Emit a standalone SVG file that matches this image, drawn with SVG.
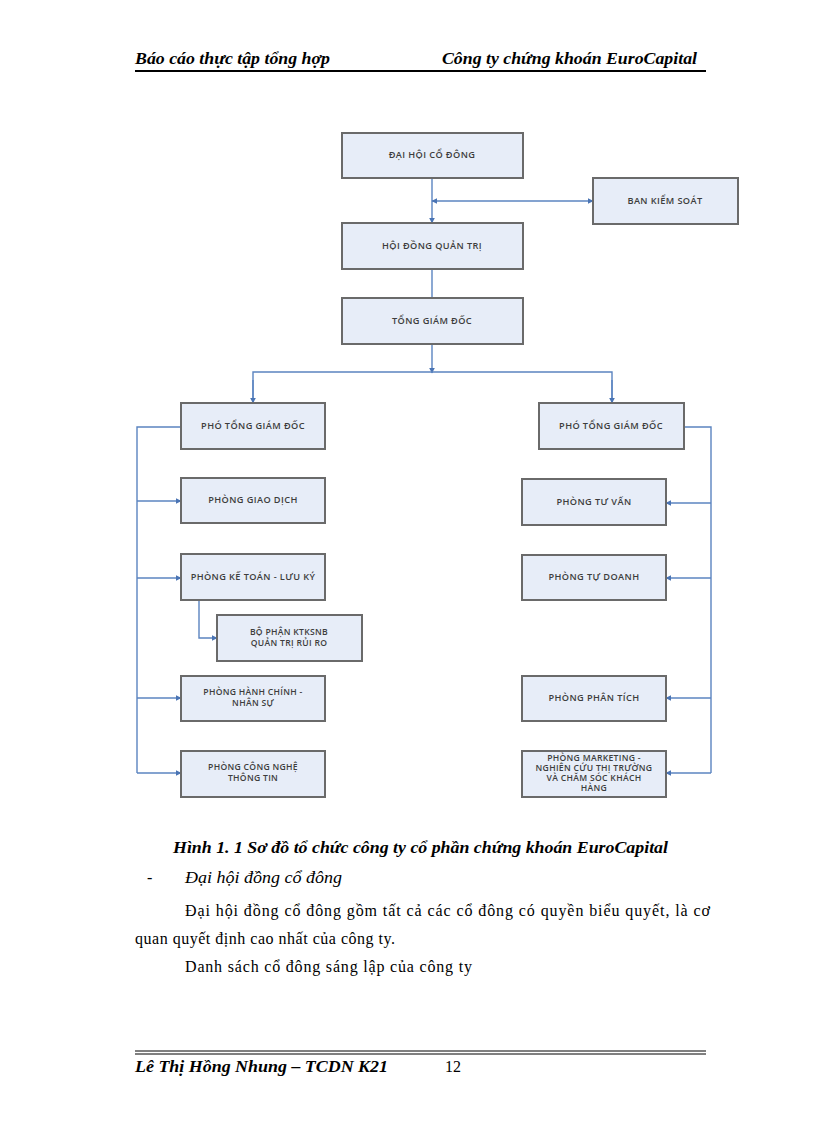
<svg xmlns="http://www.w3.org/2000/svg" width="816" height="1123" viewBox="0 0 816 1123">
<style>
.box{fill:#e7edf8;stroke:#6a6a6a;stroke-width:2}
.bt{font-family:"Open Sans","Liberation Sans",sans-serif;font-size:9.2px;font-weight:600;letter-spacing:0.4px;fill:#3d3d3d;text-anchor:middle}
.bt2{font-family:"Open Sans","Liberation Sans",sans-serif;font-size:8.6px;font-weight:600;letter-spacing:0.3px;fill:#3d3d3d;text-anchor:middle}
.con{fill:none;stroke:#5b84c0;stroke-width:1.4}
.hd{font-family:"Liberation Serif",serif;font-weight:bold;font-style:italic;font-size:16px;fill:#000}
.tx{font-family:"Liberation Serif",serif;font-size:16px;fill:#000}
</style>
<defs>
<marker id="ar" viewBox="0 0 10 10" refX="9" refY="5" markerWidth="6" markerHeight="6" orient="auto-start-reverse" markerUnits="userSpaceOnUse">
<path d="M0,0 L10,5 L0,10 z" fill="#4a74b4"/>
</marker>
</defs>
<rect width="816" height="1123" fill="#fff"/>
<g id="header">
<text class="hd" x="135" y="64" textLength="195" lengthAdjust="spacingAndGlyphs">Báo cáo thực tập tổng hợp</text>
<text class="hd" x="442" y="64" textLength="255" lengthAdjust="spacingAndGlyphs">Công ty chứng khoán EuroCapital</text>
<line x1="135" y1="71" x2="706" y2="71" stroke="#000" stroke-width="2"/>
</g>
<g id="connectors">
<line class="con" x1="432" y1="178" x2="432" y2="223" marker-end="url(#ar)"/>
<line class="con" x1="432" y1="201" x2="593" y2="201" marker-start="url(#ar)" marker-end="url(#ar)"/>
<line class="con" x1="432" y1="269" x2="432" y2="298"/>
<line class="con" x1="432" y1="344" x2="432" y2="373" marker-end="url(#ar)"/>
<polyline class="con" points="253,403 253,372 612,372 612,403"/>
<line class="con" x1="253" y1="380" x2="253" y2="403" marker-end="url(#ar)"/>
<line class="con" x1="612" y1="380" x2="612" y2="403" marker-end="url(#ar)"/>
<polyline class="con" points="181,427 137,427 137,773"/>
<line class="con" x1="137" y1="501" x2="181" y2="501" marker-end="url(#ar)"/>
<line class="con" x1="137" y1="578" x2="181" y2="578" marker-end="url(#ar)"/>
<line class="con" x1="137" y1="698" x2="181" y2="698" marker-end="url(#ar)"/>
<line class="con" x1="137" y1="773" x2="181" y2="773" marker-end="url(#ar)"/>
<polyline class="con" points="199,600 199,638 217,638" marker-end="url(#ar)"/>
<polyline class="con" points="684,427 711,427 711,773"/>
<line class="con" x1="711" y1="503" x2="666" y2="503" marker-end="url(#ar)"/>
<line class="con" x1="711" y1="578" x2="666" y2="578" marker-end="url(#ar)"/>
<line class="con" x1="711" y1="698" x2="666" y2="698" marker-end="url(#ar)"/>
<line class="con" x1="711" y1="773" x2="666" y2="773" marker-end="url(#ar)"/>
</g>
<g id="n-dhcd"><rect class="box" x="342" y="133" width="181" height="45"/><text class="bt" x="432" y="158">ĐẠI HỘI CỔ ĐÔNG</text></g>
<g id="n-bks"><rect class="box" x="593" y="178" width="145" height="46"/><text class="bt" x="665" y="204">BAN KIỂM SOÁT</text></g>
<g id="n-hdqt"><rect class="box" x="342" y="223" width="181" height="46"/><text class="bt" x="432" y="249">HỘI ĐỒNG QUẢN TRỊ</text></g>
<g id="n-tgd"><rect class="box" x="342" y="298" width="181" height="46"/><text class="bt" x="432" y="324">TỔNG GIÁM ĐỐC</text></g>
<g id="n-ptgd1"><rect class="box" x="181" y="403" width="144" height="46"/><text class="bt" x="253" y="429">PHÓ TỔNG GIÁM ĐỐC</text></g>
<g id="n-ptgd2"><rect class="box" x="539" y="403" width="145" height="46"/><text class="bt" x="611" y="429">PHÓ TỔNG GIÁM ĐỐC</text></g>
<g id="n-pgd"><rect class="box" x="181" y="478" width="144" height="45"/><text class="bt" x="253" y="503">PHÒNG GIAO DỊCH</text></g>
<g id="n-pkt"><rect class="box" x="181" y="554" width="144" height="46"/><text class="bt" x="253" y="580">PHÒNG KẾ TOÁN - LƯU KÝ</text></g>
<g id="n-bp"><rect class="box" x="217" y="615" width="145" height="46"/><text class="bt2" x="289" y="635">BỘ PHẬN KTKSNB</text><text class="bt2" x="289" y="646">QUẢN TRỊ RỦI RO</text></g>
<g id="n-phc"><rect class="box" x="181" y="676" width="144" height="45"/><text class="bt2" x="253" y="695">PHÒNG HÀNH CHÍNH -</text><text class="bt2" x="253" y="706">NHÂN SỰ</text></g>
<g id="n-pcn"><rect class="box" x="181" y="751" width="144" height="46"/><text class="bt2" x="253" y="770">PHÒNG CÔNG NGHỆ</text><text class="bt2" x="253" y="781">THÔNG TIN</text></g>
<g id="n-ptv"><rect class="box" x="522" y="479" width="144" height="46"/><text class="bt" x="594" y="505">PHÒNG TƯ VẤN</text></g>
<g id="n-ptd"><rect class="box" x="522" y="555" width="144" height="45"/><text class="bt" x="594" y="580">PHÒNG TỰ DOANH</text></g>
<g id="n-ppt"><rect class="box" x="522" y="676" width="144" height="45"/><text class="bt" x="594" y="701">PHÒNG PHÂN TÍCH</text></g>
<g id="n-pmk"><rect class="box" x="522" y="751" width="144" height="46"/><text class="bt2" x="594" y="761">PHÒNG MARKETING -</text><text class="bt2" x="594" y="771">NGHIÊN CỨU THỊ TRƯỜNG</text><text class="bt2" x="594" y="781">VÀ CHĂM SÓC KHÁCH</text><text class="bt2" x="594" y="791">HÀNG</text></g>
<g id="body">
<text class="hd" x="173" y="853" textLength="495" lengthAdjust="spacingAndGlyphs">Hình  1. 1 Sơ đồ tổ chức công ty cổ phần chứng khoán EuroCapital</text>
<text class="tx" x="147" y="883">-</text>
<text class="tx" x="185" y="883" font-style="italic" textLength="157" lengthAdjust="spacingAndGlyphs">Đại hội đồng cổ đông</text>
<text class="tx" x="185" y="916" textLength="525" lengthAdjust="spacing">Đại hội đồng cổ đông gồm tất cả các cổ đông có quyền biểu quyết, là cơ</text>
<text class="tx" x="135" y="944" textLength="260" lengthAdjust="spacing">quan quyết định cao nhất của công ty.</text>
<text class="tx" x="185" y="972" textLength="287" lengthAdjust="spacing">Danh sách cổ đông sáng lập của công ty</text>
</g>
<g id="footer">
<line x1="135" y1="1051" x2="706" y2="1051" stroke="#000" stroke-width="1"/>
<line x1="135" y1="1054" x2="706" y2="1054" stroke="#000" stroke-width="1"/>
<text class="hd" x="135" y="1072" textLength="253" lengthAdjust="spacingAndGlyphs">Lê Thị Hồng Nhung – TCDN K21</text>
<text class="tx" x="445" y="1072">12</text>
</g>
</svg>
